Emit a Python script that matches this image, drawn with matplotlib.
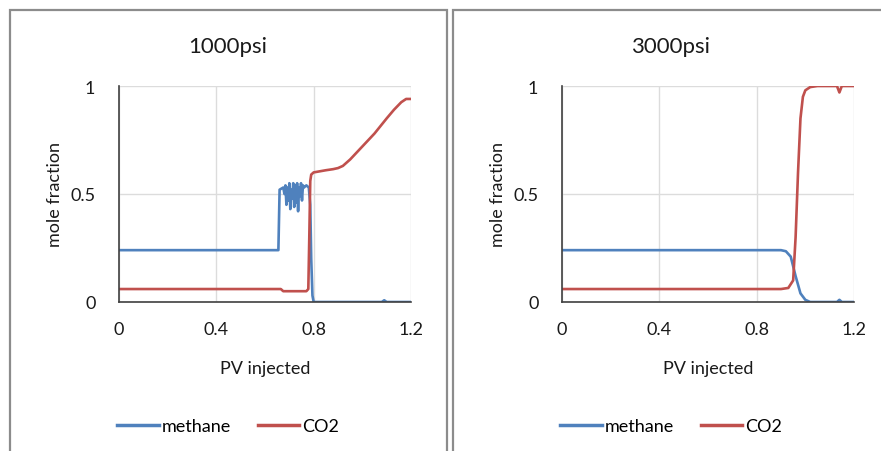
import matplotlib.pyplot as plt
from matplotlib.patches import Rectangle
from matplotlib.lines import Line2D

plt.rcParams['font.family'] = ['Lato', 'DejaVu Sans']

# 1000 psi run
ch4_1000_x = [0, 0.655, 0.66, 0.675, 0.68, 0.684, 0.688, 0.692, 0.696, 0.70, 0.704, 0.708,
              0.712, 0.716, 0.72, 0.724, 0.728, 0.732, 0.736, 0.74, 0.744, 0.748, 0.752,
              0.756, 0.76, 0.77, 0.78, 0.786, 0.79, 0.795, 0.80, 0.81, 1.08, 1.09, 1.10, 1.2]
ch4_1000_y = [0.24, 0.24, 0.52, 0.53, 0.50, 0.54, 0.45, 0.53, 0.47, 0.55, 0.43, 0.52,
              0.48, 0.55, 0.44, 0.54, 0.46, 0.55, 0.42, 0.53, 0.49, 0.55, 0.47,
              0.54, 0.53, 0.54, 0.53, 0.45, 0.20, 0.03, 0.0, 0.0, 0.0, 0.008, 0.0, 0.0]
co2_1000_x = [0, 0.665, 0.675, 0.77, 0.778, 0.782, 0.786, 0.79, 0.80, 0.85, 0.88, 0.90,
              0.92, 0.95, 1.0, 1.05, 1.10, 1.13, 1.16, 1.18, 1.2]
co2_1000_y = [0.06, 0.06, 0.05, 0.05, 0.06, 0.30, 0.56, 0.59, 0.60, 0.61, 0.615, 0.62,
              0.63, 0.66, 0.72, 0.78, 0.85, 0.89, 0.925, 0.94, 0.94]

# 3000 psi run
ch4_3000_x = [0, 0.90, 0.92, 0.94, 0.96, 0.98, 1.0, 1.02, 1.13, 1.14, 1.15, 1.2]
ch4_3000_y = [0.24, 0.24, 0.235, 0.21, 0.12, 0.04, 0.01, 0.0, 0.0, 0.01, 0.0, 0.0]
co2_3000_x = [0, 0.90, 0.93, 0.95, 0.96, 0.97, 0.98, 0.99, 1.0, 1.02, 1.05, 1.13, 1.14,
              1.15, 1.2]
co2_3000_y = [0.06, 0.06, 0.065, 0.10, 0.30, 0.60, 0.85, 0.95, 0.98, 0.995, 1.0, 1.0, 0.97,
              1.0, 1.0]

titles = ['1000psi', '3000psi']
runs = [(ch4_1000_x, ch4_1000_y, co2_1000_x, co2_1000_y),
        (ch4_3000_x, ch4_3000_y, co2_3000_x, co2_3000_y)]
x_ticks = [0, 0.4, 0.8, 1.2]
x_tick_labels = ['0', '0.4', '0.8', '1.2']
y_ticks = [0, 0.5, 1]
y_tick_labels = ['0', '0.5', '1']
blue = '#4F81BD'
red = '#C0504D'
txt = '#1a1a1a'

W, H = 881, 452
fig = plt.figure(figsize=(W / 100, H / 100), dpi=100)

# chart frames and plot areas, in pixels
boxes = [(10, 11, 437, 460), (453, 11, 450, 460)]
axes_px = [(119, 87, 292, 216), (562, 87, 292, 216)]

for i in range(2):
    bx, by, bw, bh = boxes[i]
    fig.patches.append(Rectangle((bx / W, 1 - (by + bh) / H), bw / W, bh / H,
                                 transform=fig.transFigure, fill=False,
                                 edgecolor='#8c8c8c', linewidth=1.6))
    ax_x, ax_y, ax_w, ax_h = axes_px[i]
    ax = fig.add_axes([ax_x / W, 1 - (ax_y + ax_h) / H, ax_w / W, ax_h / H])
    cx, cy, rx, ry = runs[i]
    ax.plot(cx, cy, color=blue, linewidth=1.9, label='methane')
    ax.plot(rx, ry, color=red, linewidth=1.9, label='CO2')
    ax.set_xlim(0, 1.2)
    ax.set_ylim(0, 1)
    ax.set_xticks(x_ticks)
    ax.set_xticklabels(x_tick_labels)
    ax.set_yticks(y_ticks)
    ax.set_yticklabels(y_tick_labels)
    ax.grid(True, color='#dcdcdc', linewidth=1.0)
    ax.set_axisbelow(True)
    for s in ['top', 'right']:
        ax.spines[s].set_visible(False)
    for s in ['left', 'bottom']:
        ax.spines[s].set_color('#404040')
        ax.spines[s].set_linewidth(1.2)
    ax.tick_params(length=0, labelsize=13, colors=txt, pad=14)
    ax.tick_params(axis='y', pad=17)
    ax.set_xlabel('PV injected', fontsize=13, color=txt, labelpad=16)
    ax.set_ylabel('mole fraction', fontsize=13, color=txt, labelpad=5)

    cxp = bx + 218
    fig.text(cxp / W, 1 - 47 / H, titles[i], ha='center', va='center', fontsize=16,
             color=txt)
    handles = [Line2D([], [], color=blue, linewidth=2.5),
               Line2D([], [], color=red, linewidth=2.5)]
    fig.legend(handles, ['methane', 'CO2'], loc='center', ncol=2, frameon=False,
               bbox_to_anchor=(cxp / W, 1 - 427 / H), fontsize=13, handlelength=2.3,
               handletextpad=0.15, columnspacing=1.5)

fig.savefig('out.png', dpi=100)
